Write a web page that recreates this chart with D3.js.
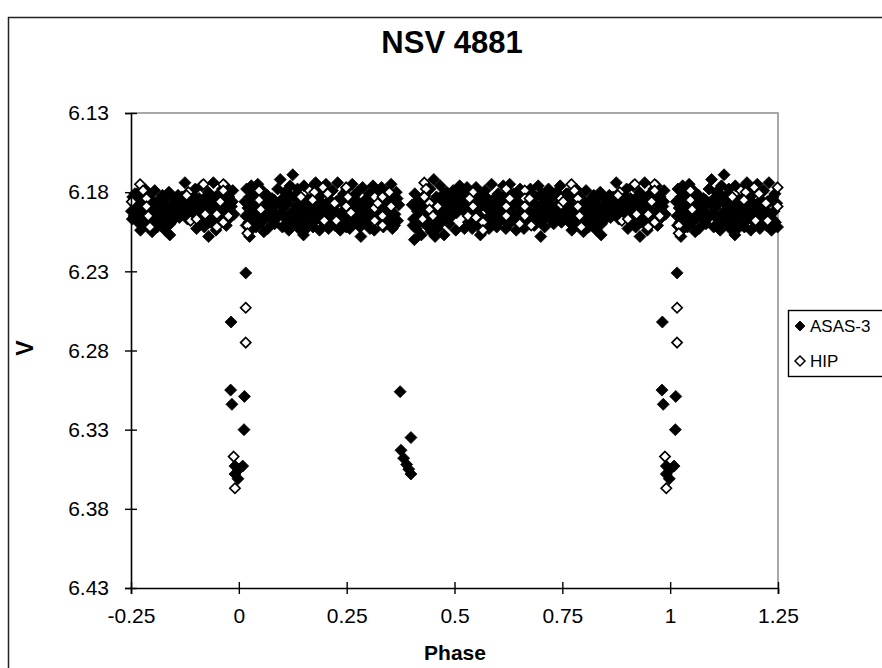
<!DOCTYPE html>
<html>
<head>
<meta charset="utf-8">
<script src="https://cdn.jsdelivr.net/npm/d3@7"></script>
<style>
  body { margin: 0; background: #fff; }
  text { font-family: "Liberation Sans", Arial, sans-serif; fill: #000; }
</style>
</head>
<body>
<div id="chart"></div>
<script>
// chart texts and ticks
const chartTitle = "NSV 4881";
const xLabel = "Phase";
const yLabel = "V";
const seriesNames = ["ASAS-3", "HIP"];
const xTicks = [-0.25, 0, 0.25, 0.5, 0.75, 1, 1.25];
const yTicks = [6.13, 6.18, 6.23, 6.28, 6.33, 6.38, 6.43];

// ASAS-3 points, [phase, V], phase in 0..1
const asasBand = [
  [0.014,6.186],[0.016,6.195],[0.018,6.178],[0.021,6.190],[0.023,6.199],[0.025,6.183],[0.027,6.204],[0.029,6.176],
  [0.031,6.192],[0.033,6.186],[0.035,6.197],[0.037,6.181],[0.040,6.202],[0.042,6.189],[0.044,6.175],[0.046,6.194],
  [0.049,6.184],[0.052,6.199],[0.054,6.179],[0.056,6.190],[0.058,6.205],[0.061,6.186],[0.063,6.196],[0.066,6.182],
  [0.068,6.193],[0.071,6.188],[0.074,6.197],[0.077,6.184],[0.080,6.192],[0.083,6.200],[0.086,6.187],
  [0.090,6.178],[0.093,6.195],[0.096,6.172],[0.098,6.185],[0.101,6.202],[0.104,6.190],[0.107,6.180],[0.110,6.197],
  [0.113,6.187],[0.116,6.204],[0.119,6.176],[0.122,6.193],[0.125,6.169],[0.127,6.183],[0.130,6.199],[0.133,6.189],
  [0.136,6.178],[0.139,6.203],[0.142,6.192],[0.145,6.198],[0.148,6.185],[0.151,6.176],[0.154,6.194],[0.157,6.203],
  [0.160,6.188],[0.163,6.197],[0.166,6.183],[0.169,6.192],[0.172,6.202],[0.175,6.189],[0.178,6.174],[0.181,6.196],
  [0.184,6.185],[0.187,6.204],[0.190,6.191],[0.193,6.181],[0.196,6.199],[0.199,6.188],[0.202,6.175],[0.205,6.193],
  [0.208,6.203],[0.211,6.185],[0.214,6.196],[0.217,6.179],[0.220,6.191],[0.223,6.201],[0.226,6.186],[0.229,6.174],
  [0.232,6.195],[0.235,6.204],[0.238,6.183],[0.241,6.192],[0.244,6.199],[0.247,6.187],[0.250,6.178],
  [0.254,6.196],[0.257,6.203],[0.260,6.184],[0.263,6.175],[0.266,6.191],[0.269,6.199],[0.272,6.186],[0.275,6.180],
  [0.278,6.194],[0.281,6.202],[0.284,6.189],[0.287,6.177],[0.290,6.196],[0.293,6.185],[0.296,6.200],[0.299,6.191],
  [0.302,6.181],[0.305,6.197],[0.308,6.187],[0.311,6.176],[0.314,6.204],[0.318,6.193],[0.321,6.183],[0.325,6.198],
  [0.328,6.189],[0.331,6.177],[0.335,6.202],[0.338,6.187],[0.341,6.196],[0.344,6.181],[0.347,6.199],[0.350,6.191],
  [0.353,6.175],[0.356,6.203],[0.359,6.185],[0.362,6.194],[0.365,6.180],[0.368,6.198],[0.371,6.188],
  [0.407,6.210],
  [0.402,6.188],[0.405,6.197],[0.408,6.181],[0.411,6.203],[0.414,6.192],[0.417,6.185],[0.420,6.199],[0.423,6.207],
  [0.427,6.190],[0.431,6.182],[0.435,6.201],[0.439,6.194],[0.443,6.178],[0.446,6.205],[0.449,6.187],[0.452,6.172],
  [0.455,6.196],[0.458,6.183],[0.461,6.203],[0.464,6.191],[0.467,6.176],[0.470,6.199],[0.473,6.186],[0.476,6.207],
  [0.479,6.194],[0.482,6.180],[0.485,6.189],[0.488,6.200],[0.491,6.184],[0.494,6.195],[0.497,6.179],[0.500,6.191],
  [0.503,6.204],[0.506,6.180],[0.509,6.188],[0.512,6.176],[0.515,6.185],[0.518,6.191],[0.521,6.179],[0.523,6.203],
  [0.526,6.186],[0.529,6.177],[0.532,6.199],[0.535,6.189],[0.538,6.181],[0.541,6.203],[0.544,6.194],[0.547,6.186],
  [0.550,6.177],[0.553,6.200],[0.556,6.190],[0.559,6.183],[0.562,6.196],[0.565,6.205],[0.568,6.188],
  [0.571,6.179],[0.574,6.197],[0.577,6.186],[0.580,6.203],[0.583,6.192],[0.586,6.175],[0.589,6.199],[0.592,6.184],
  [0.595,6.193],[0.598,6.202],[0.601,6.181],[0.604,6.190],[0.607,6.198],[0.610,6.186],[0.613,6.176],[0.616,6.195],
  [0.619,6.203],[0.622,6.184],[0.625,6.191],[0.628,6.175],[0.631,6.199],[0.634,6.188],[0.637,6.181],[0.640,6.196],
  [0.643,6.204],[0.646,6.185],[0.649,6.193],[0.652,6.178],[0.655,6.199],[0.658,6.188],[0.661,6.203],[0.664,6.180],
  [0.667,6.195],[0.670,6.186],[0.673,6.192],[0.676,6.178],[0.679,6.196],[0.682,6.186],[0.685,6.201],[0.688,6.183],
  [0.691,6.192],[0.694,6.176],[0.697,6.198],[0.700,6.188],[0.703,6.181],[0.706,6.195],[0.709,6.202],[0.712,6.185],
  [0.715,6.191],[0.718,6.178],[0.721,6.197],[0.724,6.188],[0.727,6.183],[0.730,6.200],[0.733,6.192],[0.736,6.180],
  [0.739,6.196],[0.742,6.187],[0.745,6.176],[0.748,6.199],[0.751,6.192],[0.754,6.183],[0.757,6.195],[0.760,6.188],
  [0.763,6.181],[0.766,6.199],[0.769,6.190],[0.772,6.204],[0.775,6.185],[0.779,6.195],[0.782,6.178],[0.785,6.201],
  [0.789,6.189],[0.792,6.183],[0.796,6.197],[0.799,6.205],[0.802,6.187],[0.805,6.179],[0.808,6.194],[0.811,6.202],
  [0.814,6.186],[0.817,6.191],[0.820,6.199],[0.823,6.182],[0.826,6.193],[0.829,6.204],[0.832,6.188],[0.835,6.196],
  [0.838,6.180],[0.841,6.200],[0.844,6.190],[0.847,6.184],[0.850,6.195],[0.853,6.186],[0.856,6.191],[0.859,6.182],
  [0.862,6.196],[0.865,6.188],[0.868,6.183],[0.871,6.193],[0.875,6.174],[0.878,6.189],[0.881,6.197],[0.884,6.185],
  [0.887,6.191],[0.890,6.181],[0.893,6.195],[0.896,6.187],[0.899,6.178],[0.902,6.203],[0.905,6.191],[0.908,6.184],
  [0.911,6.198],[0.914,6.176],[0.917,6.189],[0.920,6.202],[0.923,6.183],[0.926,6.195],[0.929,6.180],[0.932,6.191],
  [0.935,6.199],[0.938,6.186],[0.941,6.174],[0.944,6.195],[0.947,6.204],[0.950,6.182],[0.953,6.191],[0.956,6.198],
  [0.959,6.186],[0.962,6.178],[0.965,6.193],[0.968,6.176],[0.971,6.201],[0.974,6.188],[0.977,6.183],[0.980,6.196],
  [0.983,6.189],[0.986,6.179],[0.989,6.194],
  [0.025,6.208],[0.150,6.207],[0.283,6.208],[0.455,6.208],[0.560,6.207],[0.700,6.208],[0.840,6.207],[0.930,6.208]
];
// more ASAS-3 points in the crowded core of the band
const asasCore = [
  [0.017,6.201],[0.024,6.188],[0.032,6.179],[0.039,6.194],[0.047,6.200],[0.053,6.187],[0.060,6.193],[0.067,6.203],
  [0.073,6.191],[0.082,6.185],[0.088,6.195],[0.095,6.188],[0.102,6.194],[0.109,6.186],[0.115,6.181],[0.121,6.200],
  [0.128,6.192],[0.134,6.196],[0.141,6.184],[0.147,6.200],[0.153,6.188],[0.159,6.195],[0.165,6.178],[0.171,6.196],
  [0.177,6.198],[0.183,6.179],[0.189,6.186],[0.195,6.193],[0.201,6.199],[0.207,6.189],[0.213,6.180],[0.219,6.198],
  [0.225,6.193],[0.231,6.186],[0.237,6.197],[0.243,6.181],[0.249,6.202],[0.256,6.189],[0.262,6.198],[0.268,6.182],
  [0.274,6.195],[0.280,6.187],[0.286,6.199],[0.292,6.192],[0.298,6.184],[0.304,6.203],[0.310,6.192],[0.316,6.180],
  [0.323,6.192],[0.330,6.196],[0.336,6.183],[0.343,6.191],[0.349,6.196],[0.355,6.186],[0.361,6.201],[0.367,6.184],
  [0.404,6.201],[0.410,6.187],[0.416,6.195],[0.422,6.191],[0.429,6.196],[0.437,6.186],[0.444,6.199],[0.451,6.192],
  [0.457,6.202],[0.463,6.185],[0.469,6.193],[0.475,6.181],[0.481,6.197],[0.487,6.183],[0.493,6.190],[0.499,6.185],
  [0.505,6.193],[0.511,6.183],[0.517,6.180],[0.525,6.192],[0.531,6.184],[0.537,6.195],[0.543,6.199],[0.549,6.191],
  [0.555,6.182],[0.561,6.189],[0.567,6.198],[0.573,6.183],[0.579,6.191],[0.585,6.196],[0.591,6.189],[0.597,6.186],
  [0.603,6.196],[0.609,6.192],[0.615,6.183],[0.621,6.199],[0.627,6.187],[0.633,6.194],[0.639,6.188],[0.645,6.199],
  [0.651,6.189],[0.657,6.183],[0.663,6.199],[0.669,6.191],[0.675,6.187],[0.681,6.181],[0.687,6.195],[0.693,6.189],
  [0.699,6.182],[0.705,6.189],[0.711,6.196],[0.717,6.185],[0.723,6.182],[0.729,6.192],[0.735,6.197],[0.741,6.183],
  [0.747,6.190],[0.753,6.197],[0.759,6.181],[0.765,6.193],[0.771,6.186],[0.778,6.190],[0.784,6.194],[0.791,6.196],
  [0.798,6.190],[0.804,6.199],[0.810,6.186],[0.816,6.197],[0.822,6.190],[0.828,6.184],[0.834,6.201],[0.840,6.193],
  [0.846,6.198],[0.852,6.190],[0.858,6.194],[0.864,6.185],[0.870,6.188],[0.876,6.194],[0.882,6.186],[0.889,6.193],
  [0.895,6.183],[0.901,6.190],[0.907,6.196],[0.913,6.186],[0.919,6.195],[0.925,6.189],[0.931,6.197],[0.937,6.193],
  [0.943,6.184],[0.949,6.189],[0.955,6.192],[0.961,6.196],[0.967,6.185],[0.973,6.195],[0.979,6.189],[0.985,6.186]
];
// ASAS-3 points inside the two eclipses
const asasDips = [
  [0.016,6.231],[0.982,6.262],[0.981,6.305],[0.013,6.309],[0.984,6.314],[0.012,6.330],
  [0.991,6.353],[0.009,6.353],[0.000,6.355],[0.991,6.358],[0.998,6.361],
  [0.374,6.306],[0.399,6.335],[0.376,6.343],[0.382,6.348],[0.389,6.352],[0.394,6.355],[0.399,6.358]
];
// HIP points, [phase, V]
const hipPoints = [
  [0.020,6.201],[0.020,6.206],[0.047,6.179],[0.047,6.185],[0.051,6.191],[0.144,6.183],[0.164,6.179],[0.175,6.180],
  [0.171,6.185],[0.195,6.177],[0.206,6.181],[0.222,6.187],[0.198,6.198],[0.226,6.198],[0.249,6.177],[0.253,6.183],
  [0.249,6.189],[0.260,6.193],[0.315,6.183],[0.315,6.190],[0.322,6.187],[0.315,6.198],[0.333,6.183],[0.333,6.195],
  [0.353,6.189],[0.333,6.201],[0.349,6.180],[0.430,6.174],[0.434,6.178],[0.430,6.183],[0.442,6.187],[0.442,6.191],
  [0.450,6.195],[0.426,6.197],[0.461,6.189],[0.543,6.180],[0.535,6.184],[0.543,6.189],[0.531,6.195],[0.550,6.196],
  [0.566,6.199],[0.566,6.204],[0.620,6.178],[0.628,6.184],[0.620,6.189],[0.620,6.195],[0.663,6.179],[0.663,6.184],
  [0.663,6.189],[0.663,6.195],[0.651,6.200],[0.674,6.184],[0.678,6.201],[0.747,6.184],[0.747,6.188],[0.752,6.186],
  [0.771,6.175],[0.778,6.179],[0.786,6.184],[0.786,6.189],[0.790,6.195],[0.794,6.202],[0.883,6.180],[0.918,6.175],
  [0.879,6.182],[0.888,6.198],[0.922,6.194],[0.902,6.197],[0.964,6.175],[0.964,6.179],[0.957,6.186],[0.949,6.194],
  [0.949,6.202],[0.964,6.199],[0.976,6.195],
  [0.016,6.253],[0.016,6.275],[0.988,6.347],[0.991,6.367]
];

function run_chart() {
  const width = 882, height = 668;
  const margin = { top: 113, right: 104, bottom: 80, left: 131 };

  const svg = d3.select("#chart")
    .append("svg")
    .attr("width", width)
    .attr("height", height);

  // outer chart frame (runs off the right and bottom edges)
  svg.append("rect")
    .attr("x", 8.5).attr("y", 17.5)
    .attr("width", 1000).attr("height", 1000)
    .attr("fill", "#fff")
    .attr("stroke", "#222")
    .attr("stroke-width", 1.5);

  const x = d3.scaleLinear()
    .domain([-0.25, 1.25])
    .range([margin.left, width - margin.right]);

  const y = d3.scaleLinear()
    .domain([6.13, 6.43])
    .range([margin.top, height - margin.bottom]);

  // phase-folded plot repeats the 0..0.25 and 0.75..1 parts
  const wrap = pts => {
    let out = [];
    for (let p of pts) {
      out.push(p);
      if (p[0] < 0.25) out.push([p[0] + 1, p[1]]);
      if (p[0] >= 0.75) out.push([p[0] - 1, p[1]]);
    }
    return out;
  };

  // plot area border (grey top/right)
  svg.append("path")
    .attr("d", `M${x(-0.25)},${y(6.13)}H${x(1.25)}V${y(6.43)}`)
    .attr("fill", "none")
    .attr("stroke", "#8c8c8c")
    .attr("stroke-width", 1.5);

  const diamond = {
    draw(ctx, size) {
      const r = Math.sqrt(size / 2);
      ctx.moveTo(0, -r); ctx.lineTo(r, 0); ctx.lineTo(0, r); ctx.lineTo(-r, 0); ctx.closePath();
    }
  };

  svg.append("g")
    .selectAll("path")
    .data(wrap(asasBand.concat(asasCore, asasDips)))
    .join("path")
    .attr("transform", d => `translate(${x(d[0])},${y(d[1])})`)
    .attr("d", d3.symbol(diamond, 72))
    .attr("fill", "#000")
    .attr("stroke", "#000")
    .attr("stroke-width", 0.8);

  svg.append("g")
    .selectAll("path")
    .data(wrap(hipPoints))
    .join("path")
    .attr("transform", d => `translate(${x(d[0])},${y(d[1])})`)
    .attr("d", d3.symbol(diamond, 52))
    .attr("fill", "#fff")
    .attr("stroke", "#000")
    .attr("stroke-width", 1.7);

  // axes
  const xAxis = svg.append("g")
    .attr("transform", `translate(0,${y(6.43)})`)
    .call(d3.axisBottom(x).tickValues(xTicks).tickSizeOuter(0).tickSize(6).tickPadding(14)
      .tickFormat(d => String(d)));
  xAxis.selectAll(".tick line").attr("y1", -6).attr("y2", 6);

  const yAxis = svg.append("g")
    .attr("transform", `translate(${x(-0.25)},0)`)
    .call(d3.axisLeft(y).tickValues(yTicks).tickSizeOuter(0).tickSize(6).tickPadding(16)
      .tickFormat(d3.format(".2f")));
  yAxis.selectAll(".tick line").attr("x1", -6).attr("x2", 6);

  svg.selectAll(".domain").attr("stroke", "#000").attr("stroke-width", 1.6);
  svg.selectAll(".tick line").attr("stroke", "#000").attr("stroke-width", 1.4);
  svg.selectAll(".tick text")
    .attr("font-family", "'Liberation Sans', Arial, sans-serif")
    .attr("font-size", 21)
    .attr("fill", "#000");

  // titles
  svg.append("text")
    .attr("x", 452).attr("y", 53)
    .attr("text-anchor", "middle")
    .attr("font-size", 31)
    .attr("font-weight", "bold")
    .text(chartTitle);

  svg.append("text")
    .attr("x", 455).attr("y", 660)
    .attr("text-anchor", "middle")
    .attr("font-size", 21)
    .attr("font-weight", "bold")
    .text(xLabel);

  svg.append("text")
    .attr("transform", "translate(33,348) rotate(-90)")
    .attr("text-anchor", "middle")
    .attr("font-size", 23)
    .attr("font-weight", "bold")
    .text(yLabel);

  // legend
  const legend = svg.append("g");
  legend.append("rect")
    .attr("x", 788.5).attr("y", 310.5)
    .attr("width", 140).attr("height", 66)
    .attr("fill", "#fff")
    .attr("stroke", "#000")
    .attr("stroke-width", 1.4);

  const items = legend.selectAll("g")
    .data(seriesNames)
    .join("g")
    .attr("transform", (d, i) => `translate(800,${326 + i * 35})`);

  items.append("path")
    .attr("d", d3.symbol(diamond, 50))
    .attr("fill", (d, i) => i == 0 ? "#000" : "#fff")
    .attr("stroke", "#000")
    .attr("stroke-width", (d, i) => i == 0 ? 0.8 : 1.5);

  items.append("text")
    .attr("x", 10).attr("y", 6)
    .attr("font-size", 17)
    .text(d => d);
}
run_chart();
</script>
</body>
</html>
